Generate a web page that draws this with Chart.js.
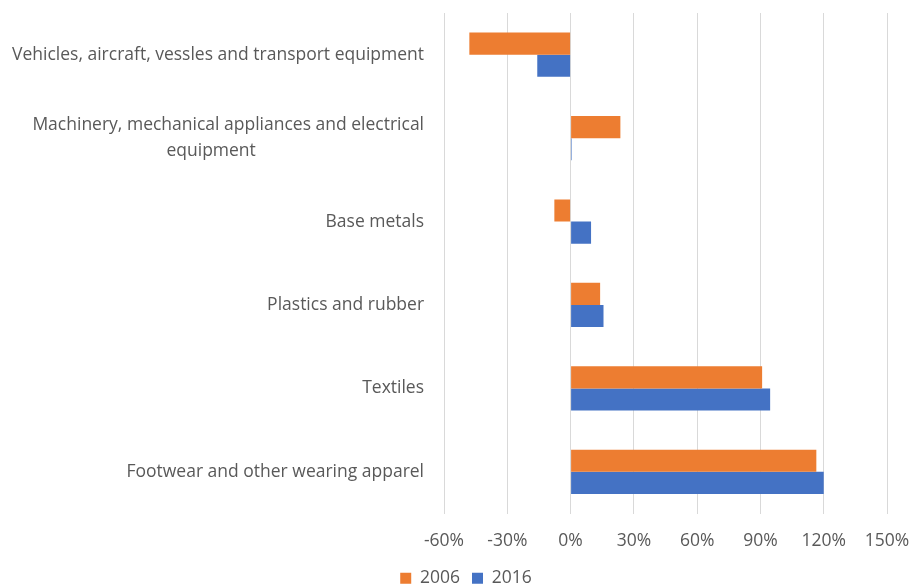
<!DOCTYPE html>
<html>
<head>
<meta charset="utf-8">
<script src="https://cdn.jsdelivr.net/npm/chart.js@4/dist/chart.umd.min.js"></script>
<style>
  html, body { margin: 0; padding: 0; background: #fff; }
  #wrap { width: 912px; height: 586px; }
</style>
</head>
<body>
<div id="wrap"><canvas id="myChart" width="912" height="586"></canvas></div>
<script>
var categories = [
    "Vehicles, aircraft, vessles and transport equipment",
    ["Machinery, mechanical appliances and electrical", "equipment                                     "],
    "Base metals",
    "Plastics and rubber",
    "Textiles",
    "Footwear and other wearing apparel"
];
var values2006 = [-48, 23.6, -7.7, 14, 90.8, 116.5];
var values2016 = [-15.8, 0.5, 9.7, 15.6, 94.6, 120];
var xTicks = [-60, -30, 0, 30, 60, 90, 120, 150];

var labelFont = { family: "Open Sans", size: 17.5 };

// nudge the legend a bit right, like the original
var legendShift = {
    id: 'legendShift',
    afterLayout: function (chart) {
        chart.legend.left += 10;
        chart.legend.right += 10;
    }
};

var ctx = document.getElementById('myChart').getContext('2d');
var myChart = new Chart(ctx, {
    type: 'bar',
    data: {
        labels: categories,
        datasets: [{
            label: "2006",
            data: values2006,
            backgroundColor: "#ED7D31"
        }, {
            label: "2016",
            data: values2016,
            backgroundColor: "#4472C4"
        }]
    },
    options: {
        indexAxis: 'y',
        responsive: false,
        animation: false,
        layout: { padding: { top: 13, right: 0, left: 0, bottom: -11 } },
        scales: {
            x: {
                min: -60,
                max: 150,
                afterBuildTicks: function (axis) {
                    axis.ticks = xTicks.map(function (v) { return { value: v }; });
                },
                afterFit: function (axis) {
                    axis.paddingLeft = 0;
                    axis.paddingRight = 25;
                    axis.height = axis.height - 11;
                },
                ticks: {
                    color: "#595959",
                    font: labelFont,
                    padding: 17,
                    callback: function (v) { return v + "%"; }
                },
                grid: { color: "#d9d9d9", drawTicks: false },
                border: { display: false }
            },
            y: {
                afterFit: function (axis) {
                    axis.paddingTop = 0;
                    axis.paddingBottom = 0;
                },
                ticks: {
                    color: "#595959",
                    font: { family: "Open Sans", size: 17.5, lineHeight: 1.45 },
                    padding: 12
                },
                grid: { display: false },
                border: { display: false }
            }
        },
        datasets: {
            bar: { categoryPercentage: 0.53, barPercentage: 1.0 }
        },
        plugins: {
            legend: {
                position: 'bottom',
                labels: {
                    color: "#595959",
                    font: labelFont,
                    boxWidth: 11,
                    boxHeight: 11,
                    padding: 12
                }
            },
            tooltip: { enabled: false }
        }
    },
    plugins: [legendShift]
});
</script>
</body>
</html>
